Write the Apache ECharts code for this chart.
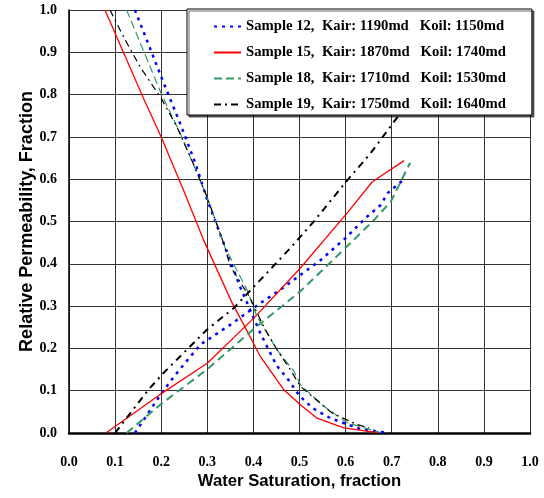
<!DOCTYPE html>
<html>
<head>
<meta charset="utf-8">
<script src="https://cdn.jsdelivr.net/npm/echarts@6/dist/echarts.min.js"></script>
<style>
  html, body { margin: 0; padding: 0; background: #fff; }
  #chart { width: 544px; height: 498px; }
</style>
</head>
<body>
<div id="chart"></div>
<script>
// legend labels
const sampleNames = [
  'Sample 12,  Kair: 1190md   Koil: 1150md',
  'Sample 15,  Kair: 1870md   Koil: 1740md',
  'Sample 18,  Kair: 1710md   Koil: 1530md',
  'Sample 19,  Kair: 1750md   Koil: 1640md'
]

// [Sw, kr] pairs
const s12Kro = [[0.143, 1.0], [0.18, 0.898], [0.2, 0.842], [0.241, 0.732], [0.274, 0.638], [0.3, 0.551], [0.335, 0.45], [0.371, 0.346], [0.393, 0.291], [0.415, 0.236], [0.45, 0.16], [0.473, 0.13], [0.5, 0.088], [0.528, 0.059], [0.567, 0.035], [0.6, 0.022], [0.633, 0.009], [0.687, 0.001]]
const s12Krw = [[0.143, 0], [0.2, 0.093], [0.234, 0.142], [0.285, 0.209], [0.35, 0.256], [0.415, 0.307], [0.459, 0.339], [0.5, 0.372], [0.546, 0.409], [0.6, 0.461], [0.643, 0.508], [0.676, 0.539], [0.691, 0.567], [0.727, 0.6]]

const s15Kro = [[0.078, 1.0], [0.162, 0.79], [0.2, 0.70], [0.25, 0.57], [0.292, 0.456], [0.354, 0.307], [0.383, 0.248], [0.415, 0.181], [0.466, 0.102], [0.502, 0.067], [0.538, 0.035], [0.596, 0.012], [0.669, 0.001]]
const s15Krw = [[0.08, 0], [0.2, 0.093], [0.3, 0.165], [0.403, 0.274], [0.502, 0.39], [0.604, 0.521], [0.658, 0.594], [0.727, 0.644]]

const s18Kro = [[0.125, 1.0], [0.201, 0.8], [0.241, 0.709], [0.299, 0.559], [0.339, 0.437], [0.386, 0.339], [0.408, 0.275], [0.451, 0.197], [0.488, 0.146], [0.502, 0.114], [0.553, 0.063], [0.604, 0.024], [0.676, 0.001]]
const s18Krw = [[0.125, 0], [0.198, 0.067], [0.299, 0.15], [0.403, 0.248], [0.502, 0.335], [0.604, 0.442], [0.662, 0.504], [0.698, 0.547], [0.74, 0.639]]

const s19Kro = [[0.089, 1.0], [0.122, 0.929], [0.154, 0.866], [0.2, 0.791], [0.234, 0.724], [0.274, 0.626], [0.299, 0.559], [0.335, 0.45], [0.35, 0.394], [0.393, 0.319], [0.422, 0.252], [0.451, 0.197], [0.48, 0.15], [0.502, 0.11], [0.571, 0.047], [0.625, 0.02], [0.651, 0.012]]
const s19Krw = [[0.1, 0], [0.172, 0.102], [0.205, 0.142], [0.299, 0.244], [0.357, 0.295], [0.415, 0.362], [0.48, 0.437], [0.531, 0.5], [0.604, 0.598], [0.654, 0.661], [0.716, 0.752]]

const serifBold = { fontFamily: 'Liberation Serif', fontWeight: 'bold', fontSize: 14, color: '#000' }

function line(name, data, color, width, type) {
  return {
    name: name,
    type: 'line',
    data: data,
    symbol: 'none',
    silent: true,
    animation: false,
    lineStyle: { color: color, width: width, type: type },
    itemStyle: { color: color }
  }
}

const chart = echarts.init(document.getElementById('chart'))
chart.setOption({
  backgroundColor: '#fff',
  grid: { left: 69, right: 14, top: 10, bottom: 65 },
  legend: {
    data: sampleNames,
    orient: 'vertical',
    left: 187,
    top: 9,
    padding: [10, 26, 3, 26],
    itemWidth: 27,
    itemHeight: 10,
    itemGap: 11,
    itemStyle: { opacity: 0 },
    backgroundColor: '#fff',
    borderColor: '#000',
    borderWidth: 1,
    shadowColor: 'rgba(0,0,0,0.6)',
    shadowOffsetX: 2,
    shadowOffsetY: 2,
    shadowBlur: 0,
    selectedMode: false,
    textStyle: Object.assign({}, serifBold, { fontSize: 14.7 })
  },
  xAxis: {
    type: 'value',
    min: 0, max: 1, interval: 0.1,
    name: 'Water Saturation, fraction',
    nameLocation: 'middle',
    nameGap: 40,
    nameMoveOverlap: false,
    nameTextStyle: { fontFamily: 'Liberation Sans', fontWeight: 'bold', fontSize: 16.7, color: '#000' },
    axisLine: { lineStyle: { color: '#000', width: 2.5 } },
    axisTick: { show: false },
    axisLabel: Object.assign({ margin: 22, formatter: v => v.toFixed(1) }, serifBold),
    splitLine: { lineStyle: { color: '#333', width: 1 } }
  },
  yAxis: {
    type: 'value',
    min: 0, max: 1, interval: 0.1,
    name: 'Relative Permeability, Fraction',
    nameLocation: 'middle',
    nameGap: 33,
    nameMoveOverlap: false,
    nameTextStyle: { fontFamily: 'Liberation Sans', fontWeight: 'bold', fontSize: 18, color: '#000' },
    axisLine: { lineStyle: { color: '#000', width: 1.5 } },
    axisTick: { show: false },
    axisLabel: Object.assign({ margin: 12, formatter: v => v.toFixed(1) }, serifBold),
    splitLine: { lineStyle: { color: '#333', width: 1 } }
  },
  series: [
    line(sampleNames[0], s12Kro, '#0000ff', 2.5, [3, 5]),
    line(sampleNames[0], s12Krw, '#0000ff', 2.5, [3, 5]),
    line(sampleNames[1], s15Kro, '#ff0000', 1.3, 'solid'),
    line(sampleNames[1], s15Krw, '#ff0000', 1.3, 'solid'),
    line(sampleNames[2], s18Kro, '#339966', 1.2, [8, 4]),
    line(sampleNames[2], s18Krw, '#339966', 2, [8, 5]),
    line(sampleNames[3], s19Kro, '#000000', 1.2, [7, 4, 2, 4]),
    line(sampleNames[3], s19Krw, '#000000', 2, [7, 5, 2, 5])
  ]
})
</script>
</body>
</html>
